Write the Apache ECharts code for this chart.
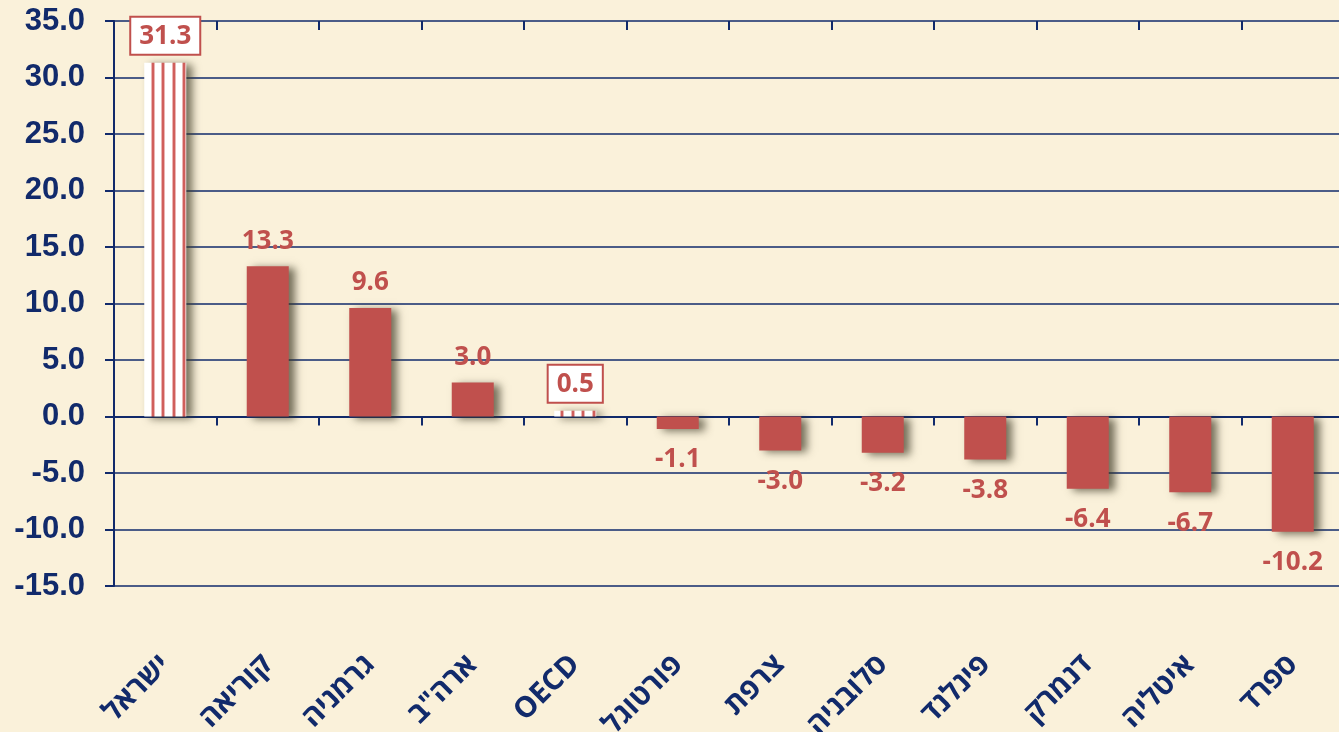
<!DOCTYPE html>
<html>
<head>
<meta charset="utf-8">
<script src="https://cdn.jsdelivr.net/npm/echarts@6/dist/echarts.min.js"></script>
<style>
  html, body { margin: 0; padding: 0; background: #FAF1DA; }
  #chart { width: 1339px; height: 732px; }
</style>
</head>
<body>
<div id="chart"></div>
<script>
// נתונים
var categories = ["ישראל", "קוריאה", "גרמניה", "ארה\"ב", "OECD", "פורטוגל", "צרפת", "סלובניה", "פינלנד", "דנמרק", "איטליה", "ספרד"];
var values = [31.3, 13.3, 9.6, 3.0, 0.5, -1.1, -3.0, -3.2, -3.8, -6.4, -6.7, -10.2];
var highlighted = ["ישראל", "OECD"]; // עמודות מפוספסות עם תווית במסגרת
var yTicks = { min: -15, max: 35, interval: 5 };

var red = "#C0504D";
var navy = "#112A6B";

// פסים אנכיים לעמודות המודגשות
var stripe = document.createElement("canvas");
stripe.width = 21;
stripe.height = 10;
var ctx = stripe.getContext("2d");
ctx.fillStyle = "#ffffff";
ctx.fillRect(0, 0, 21, 10);
ctx.fillStyle = "#EBB5B3";
ctx.fillRect(4, 0, 4, 10);
ctx.fillRect(14, 0, 4, 10);
ctx.fillStyle = "#D05F5C";
ctx.fillRect(5, 0, 2, 10);
ctx.fillRect(15, 0, 2, 10);

var shadow = {
  shadowColor: "rgba(60,55,35,0.7)",
  shadowBlur: 8,
  shadowOffsetX: 6,
  shadowOffsetY: 2
};

var seriesData = values.map(function (v, i) {
  var special = highlighted.indexOf(categories[i]) >= 0;
  var item = {
    value: v,
    itemStyle: Object.assign({ color: special ? { image: stripe, repeat: "repeat" } : red }, shadow),
    label: {
      show: true,
      position: v < 0 ? "bottom" : "top",
      distance: v < 0 ? 18 : 12
    }
  };
  if (special) {
    item.label.backgroundColor = "#ffffff";
    item.label.borderColor = red;
    item.label.borderWidth = 2;
    item.label.padding = [6, 8, 4, 8];
    item.label.distance = 9;
  }
  return item;
});

var chart = echarts.init(document.getElementById("chart"));
window.addEventListener("resize", function () {
  chart.resize();
});

chart.setOption({
  backgroundColor: "#FAF1DA",
  animation: false,
  grid: {
    left: 114,
    top: 21,
    width: 1230,
    bottom: 146,
    containLabel: false,
    outerBoundsMode: "none"
  },
  xAxis: [
    {
      type: "category",
      data: categories,
      axisLine: { onZero: true, lineStyle: { color: navy, width: 2 } },
      axisTick: { show: true, length: 9, lineStyle: { color: navy, width: 2 } },
      axisLabel: { show: false },
      splitLine: { show: false }
    },
    {
      type: "category",
      data: categories,
      axisLine: { show: false, onZero: true },
      axisTick: { show: true, inside: true, length: 9, lineStyle: { color: navy, width: 2 } },
      axisLabel: { show: false }
    },
    {
      type: "category",
      data: categories,
      position: "bottom",
      axisLine: { show: false, onZero: false },
      axisTick: { show: false },
      axisLabel: {
        show: true,
        rotate: 45,
        margin: 74,
        color: navy,
        fontSize: 29,
        fontWeight: "bold",
        fontFamily: "'Open Sans', 'DejaVu Sans', sans-serif"
      }
    }
  ],
  yAxis: {
    type: "value",
    min: yTicks.min,
    max: yTicks.max,
    interval: yTicks.interval,
    axisLine: { show: true, lineStyle: { color: navy, width: 2 } },
    axisTick: { show: true, length: 9, lineStyle: { color: navy, width: 2 } },
    axisLabel: {
      margin: 29,
      color: navy,
      fontSize: 31,
      fontWeight: "bold",
      fontFamily: "'Liberation Sans', Arial, sans-serif",
      formatter: function (v) {
        return v.toFixed(1);
      }
    },
    splitLine: { show: true, lineStyle: { color: navy, width: 1.5 } }
  },
  series: [
    {
      type: "bar",
      xAxisIndex: 0,
      barWidth: 42,
      data: seriesData,
      label: {
        color: red,
        fontSize: 26,
        fontWeight: "bold",
        fontFamily: "'Open Sans', 'DejaVu Sans', sans-serif",
        formatter: function (p) {
          return p.value.toFixed(1);
        }
      }
    }
  ]
});
</script>
</body>
</html>
